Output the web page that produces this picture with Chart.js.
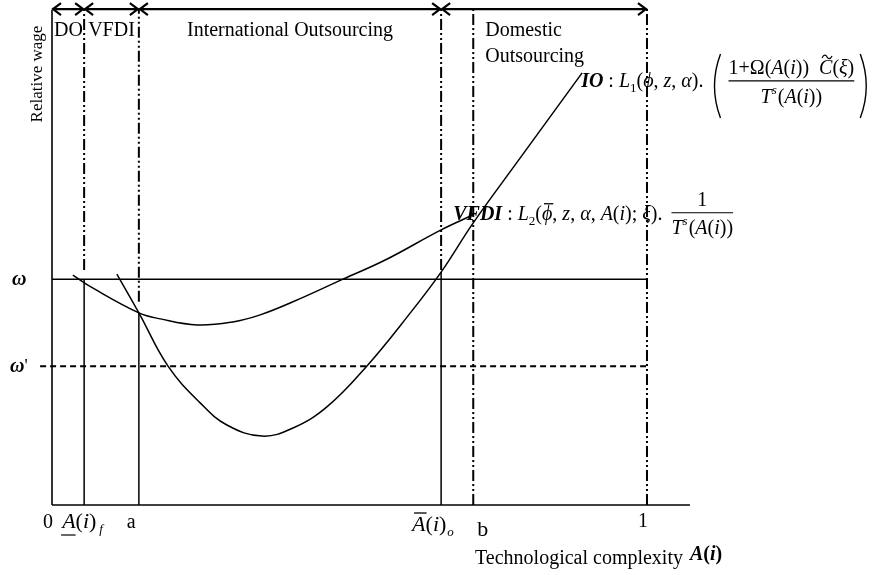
<!DOCTYPE html>
<html><head><meta charset="utf-8">
<script src="https://cdn.jsdelivr.net/npm/chart.js@4/dist/chart.umd.min.js"></script>
<style>html,body{margin:0;padding:0;background:#fff}#wrap{width:884px;height:575px}</style>
</head><body><div id="wrap"><canvas id="c" width="884" height="575"></canvas></div>
<script>
// ---- data ----
const xMarks = [0, 0.054, 0.146, 0.654, 0.708, 1];
const xTickLabels = ['0', 'A(i)f', 'a', 'Ā(i)o', 'b', '1'];
const regionBounds = [0, 0.054, 0.146, 0.654, 1];
const regionLabels = ['DO', 'VFDI', 'International Outsourcing', 'Domestic|Outsourcing'];
const omega = 44.9;
const omegaPrime = 27.6;
const arrowY = 98.6;
const guideX = [0.054, 0.146, 0.654];
const guideSolidTop = [44.9, 38.2, 46.3];
const guideDashBottom = [46.7, 40.4, 46.7];
const boundaryX = [0.708, 1];
const boundaryTop = [98.4, 98.6];
const vfdiX = [0.035, 0.069, 0.146, 0.182, 0.244, 0.304, 0.350, 0.405, 0.489, 0.560, 0.654, 0.708];
const vfdiY = [45.7, 43.1, 38.2, 37.0, 35.8, 36.4, 37.8, 40.4, 44.9, 48.7, 54.7, 57.7];
const ioX = [0.109, 0.146, 0.195, 0.249, 0.294, 0.353, 0.405, 0.462, 0.529, 0.597, 0.654, 0.708, 0.787, 0.891];
const ioY = [45.9, 38.2, 27.6, 20.3, 15.9, 13.7, 15.3, 19.5, 27.6, 37.4, 46.3, 56.1, 69.0, 85.9];
const xAxisMax = 1.0723;
const yAxisTop = 98.4;

// ---- helpers ----
const SERIF = '"Liberation Serif", "Times New Roman", serif';
const F = (st, sz) => `${st} ${sz}px ${SERIF}`;
const pts = (xs, ys) => xs.map((x, i) => ({x, y: ys[i]}));
const DASHDOT = [11, 3, 2, 3, 2, 3];

function seg(x1, y1, x2, y2, opts) {
  return Object.assign({data: [{x: x1, y: y1}, {x: x2, y: y2}], borderColor: '#000',
    borderWidth: 1.5, pointRadius: 0, tension: 0, fill: false}, opts || {});
}

const datasets = [];
datasets.push(seg(0, 0, xAxisMax, 0, {borderWidth: 1.6}));
datasets.push(seg(0, 0, 0, yAxisTop, {borderWidth: 1.6}));
datasets.push(seg(0, omega, 1, omega, {borderWidth: 1.5}));
datasets.push(seg(-0.02, omegaPrime, 1, omegaPrime, {borderWidth: 2, borderDash: [6, 4]}));
guideX.forEach((gx, i) => {
  datasets.push(seg(gx, 0, gx, guideSolidTop[i], {borderWidth: 1.5}));
  datasets.push(seg(gx, guideDashBottom[i], gx, arrowY, {borderWidth: 2, borderDash: DASHDOT}));
});
boundaryX.forEach((bx, i) => {
  datasets.push(seg(bx, 0, bx, boundaryTop[i], {borderWidth: 2, borderDash: DASHDOT}));
});
datasets.push({label: 'VFDI', data: pts(vfdiX, vfdiY), borderColor: '#000', borderWidth: 1.5,
  pointRadius: 0, tension: 0.4, fill: false});
datasets.push({label: 'IO', data: pts(ioX, ioY), borderColor: '#000', borderWidth: 1.5,
  pointRadius: 0, tension: 0.4, fill: false});

function drawRuns(ctx, x, y, runs) {
  for (const r of runs) {
    ctx.font = r.f;
    const w = ctx.measureText(r.t).width;
    ctx.fillText(r.t, x, y + (r.dy || 0));
    if (r.over !== undefined) {
      ctx.beginPath(); ctx.lineWidth = 1.3;
      ctx.moveTo(x + 2, y + r.over); ctx.lineTo(x + w + 1, y + r.over); ctx.stroke();
    }
    if (r.under !== undefined) {
      ctx.beginPath(); ctx.lineWidth = 1.2;
      ctx.moveTo(x - 1, y + r.under); ctx.lineTo(x + w, y + r.under); ctx.stroke();
    }
    if (r.tilde !== undefined) {
      const cx = x + w * 0.6, ty = y + r.tilde;
      ctx.beginPath(); ctx.lineWidth = 1.2;
      ctx.moveTo(cx - 5, ty + 1);
      ctx.bezierCurveTo(cx - 3, ty - 3, cx - 1, ty - 2, cx, ty);
      ctx.bezierCurveTo(cx + 1, ty + 2, cx + 3, ty + 3, cx + 5, ty - 1);
      ctx.stroke();
    }
    x += w + (r.sp || 0);
  }
  return x;
}
function runsWidth(ctx, runs) {
  let w = 0;
  for (const r of runs) { ctx.font = r.f; w += ctx.measureText(r.t).width + (r.sp || 0); }
  return w;
}
function arrow(ctx, x1, x2, y) {
  ctx.beginPath(); ctx.lineWidth = 2.2;
  ctx.moveTo(x1 + 1, y); ctx.lineTo(x2 - 1, y);
  ctx.moveTo(x1 + 9, y - 6); ctx.lineTo(x1 + 1, y); ctx.lineTo(x1 + 9, y + 6);
  ctx.moveTo(x2 - 9, y - 6); ctx.lineTo(x2 - 1, y); ctx.lineTo(x2 - 9, y + 6);
  ctx.stroke();
}
function paren(ctx, x, top, bot, dir) {
  const mid = (top + bot) / 2;
  ctx.beginPath(); ctx.lineWidth = 1.4;
  ctx.moveTo(x, top);
  ctx.quadraticCurveTo(x - dir * 12, mid, x, bot);
  ctx.stroke();
}

const annot = {
  id: 'annot',
  afterDatasetsDraw(chart) {
    const ctx = chart.ctx, xs = chart.scales.x, ys = chart.scales.y;
    const X = v => xs.getPixelForValue(v), Y = v => ys.getPixelForValue(v);
    ctx.save();
    ctx.fillStyle = '#000'; ctx.strokeStyle = '#000';
    ctx.textBaseline = 'alphabetic';
    const R = F('', 20), I = F('italic', 20), S = F('', 13), SI = F('italic', 13);

    // region arrows and labels
    const ay = Y(arrowY);
    for (let i = 0; i < regionLabels.length; i++) {
      arrow(ctx, X(regionBounds[i]), X(regionBounds[i + 1]), ay);
    }
    ctx.font = R;
    ctx.textAlign = 'left';
    ctx.fillText(regionLabels[0], X(regionBounds[0]) + 2, ay + 27);
    ctx.fillText(regionLabels[1], X(regionBounds[1]) + 4, ay + 27);
    ctx.textAlign = 'center';
    ctx.fillText(regionLabels[2], (X(regionBounds[2]) + X(regionBounds[3])) / 2, ay + 27);
    ctx.textAlign = 'left';
    const dom = regionLabels[3].split('|');
    ctx.fillText(dom[0], X(boundaryX[0]) + 12, ay + 27);
    ctx.fillText(dom[1], X(boundaryX[0]) + 12, ay + 53);

    // y axis title
    ctx.save();
    ctx.translate(42, 74); ctx.rotate(-Math.PI / 2);
    ctx.font = F('', 17); ctx.textAlign = 'center';
    ctx.fillText('Relative wage', 0, 0);
    ctx.restore();

    // omega labels
    ctx.textAlign = 'left';
    drawRuns(ctx, 12, Y(omega) + 6, [{t: 'ω', f: F('italic bold', 20)}]);
    drawRuns(ctx, 10, Y(omegaPrime) + 6, [{t: 'ω', f: F('italic bold', 20)}, {t: "'", f: F('', 18)}]);

    // x tick labels
    const tb = Y(0) + 23;
    const L = F('', 20), LI = F('italic', 22), LR = F('', 22);
    drawRuns(ctx, X(xMarks[0]) - 9, tb, [{t: xTickLabels[0], f: L}]);
    drawRuns(ctx, X(xMarks[1]) - 22, tb, [
      {t: 'A', f: LI, under: 7}, {t: '(', f: LR}, {t: 'i', f: LI}, {t: ')', f: LR, sp: 3}, {t: xTickLabels[1].slice(-1), f: SI, dy: 5}]);
    drawRuns(ctx, X(xMarks[2]) - 12, tb, [{t: xTickLabels[2], f: L}]);
    drawRuns(ctx, X(xMarks[3]) - 29, tb + 3, [
      {t: 'A', f: LI, over: -18}, {t: '(', f: LR}, {t: 'i', f: LI}, {t: ')', f: LR, sp: 1}, {t: xTickLabels[3].slice(-1), f: SI, dy: 5}]);
    drawRuns(ctx, X(xMarks[4]) + 4, tb + 8, [{t: xTickLabels[4], f: F('', 22)}]);
    drawRuns(ctx, X(xMarks[5]) - 9, tb - 1, [{t: xTickLabels[5], f: L}]);

    // x axis title
    const tx = drawRuns(ctx, 475, 564, [{t: 'Technological complexity ', f: L}]);
    drawRuns(ctx, tx + 2, 560, [{t: 'A', f: F('italic bold', 20)}, {t: '(', f: F('bold', 20)}, {t: 'i', f: F('italic bold', 20)}, {t: ')', f: F('bold', 20)}]);

    // IO label
    const ioEnd = {x: X(ioX[ioX.length - 1]), y: Y(ioY[ioY.length - 1])};
    const ib = ioEnd.y + 14;
    let x = drawRuns(ctx, ioEnd.x - 1, ib, [
      {t: 'IO', f: F('italic bold', 20)}, {t: ' : ', f: R}, {t: 'L', f: I}, {t: '1', f: S, dy: 5},
      {t: '(', f: R}, {t: 'ϕ', f: I}, {t: ', ', f: R}, {t: 'z', f: I}, {t: ', ', f: R},
      {t: 'α', f: I}, {t: '). ', f: R}]);
    const numIO = [{t: '1+Ω', f: R}, {t: '(', f: R}, {t: 'A', f: I}, {t: '(', f: R}, {t: 'i', f: I},
      {t: '))  ', f: R}, {t: 'C', f: I, tilde: -17}, {t: '(', f: R}, {t: 'ξ', f: I}, {t: ')', f: R}];
    const denIO = [{t: 'T', f: I}, {t: 's', f: SI, dy: -9, sp: 1}, {t: '(', f: R}, {t: 'A', f: I},
      {t: '(', f: R}, {t: 'i', f: I}, {t: '))', f: R}];
    const pl = x + 12;
    paren(ctx, pl, ib - 33, ib + 31, 1);
    const nw = runsWidth(ctx, numIO), dw = runsWidth(ctx, denIO);
    const fx = pl + 8, bar = ib - 6;
    drawRuns(ctx, fx, bar - 7, numIO);
    drawRuns(ctx, fx + (nw - dw) / 2, bar + 22, denIO);
    ctx.beginPath(); ctx.lineWidth = 1.2; ctx.moveTo(fx, bar); ctx.lineTo(fx + nw, bar); ctx.stroke();
    paren(ctx, fx + nw + 6, ib - 33, ib + 31, -1);

    // VFDI label
    const vEnd = {x: X(vfdiX[vfdiX.length - 1]), y: Y(vfdiY[vfdiY.length - 1])};
    const vb = vEnd.y + 5;
    x = drawRuns(ctx, vEnd.x - 20, vb, [
      {t: 'VFDI', f: F('italic bold', 20)}, {t: ' : ', f: R}, {t: 'L', f: I}, {t: '2', f: S, dy: 5},
      {t: '(', f: R}, {t: 'ϕ', f: I, over: -16}, {t: ', ', f: R}, {t: 'z', f: I}, {t: ', ', f: R},
      {t: 'α', f: I}, {t: ', ', f: R}, {t: 'A', f: I}, {t: '(', f: R}, {t: 'i', f: I}, {t: ')', f: R},
      {t: '; ', f: R}, {t: 'ξ', f: I}, {t: '). ', f: R}]);
    const denV = [{t: 'T', f: I}, {t: 's', f: SI, dy: -9, sp: 1}, {t: '(', f: R}, {t: 'A', f: I},
      {t: '(', f: R}, {t: 'i', f: I}, {t: '))', f: R}];
    const vdw = runsWidth(ctx, denV);
    const vfx = x + 4, vbar = vb - 7;
    ctx.font = R; ctx.textAlign = 'center';
    ctx.fillText('1', vfx + vdw / 2, vbar - 7);
    ctx.textAlign = 'left';
    drawRuns(ctx, vfx, vbar + 21, denV);
    ctx.beginPath(); ctx.lineWidth = 1.2; ctx.moveTo(vfx, vbar); ctx.lineTo(vfx + vdw, vbar); ctx.stroke();

    ctx.restore();
  }
};

new Chart(document.getElementById('c'), {
  type: 'line',
  data: {datasets},
  options: {
    responsive: false, animation: false, events: [],
    layout: {padding: {left: 52, right: 194, top: 2, bottom: 70}},
    datasets: {line: {clip: false}},
    plugins: {legend: {display: false}, tooltip: {enabled: false}},
    scales: {
      x: {type: 'linear', min: 0, max: xAxisMax, display: false},
      y: {type: 'linear', min: 0, max: 100, display: false}
    }
  },
  plugins: [annot]
});
</script>
</body></html>
